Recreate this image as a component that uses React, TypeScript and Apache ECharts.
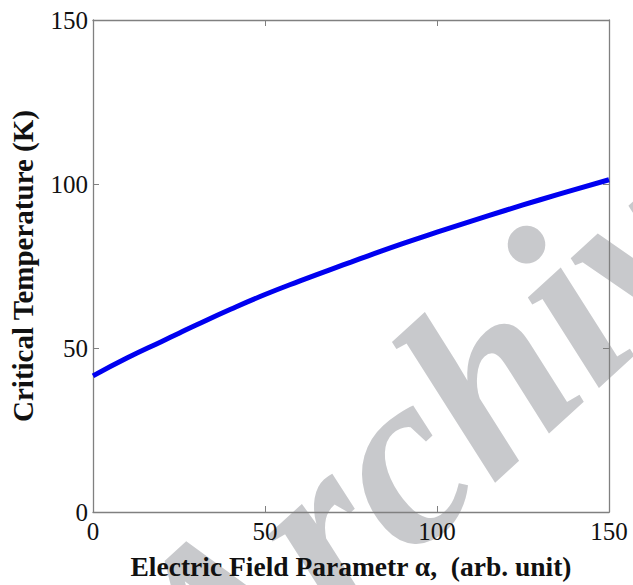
import React, { useEffect, useRef } from "react";
import * as echarts from "echarts";

const alphaValues = [0, 10, 20, 25, 30, 40, 50, 60, 70, 75, 80, 90, 100, 110, 120, 130, 140, 150];
const tcValues = [41.5, 47, 52, 54.5, 57, 61.8, 66.3, 70.4, 74.3, 76.2, 78.1, 81.8, 85.3, 88.7, 92, 95.2, 98.3, 101.3];
const xTicks = [0, 50, 100, 150];
const yTicks = [0, 50, 100, 150];
const xName = "Electric Field Parametr α,  (arb. unit)";
const yName = "Critical Temperature (K)";
const watermark = "Archive";

const FONT = "'Liberation Serif', 'DejaVu Serif', serif";

export default function App() {
  const ref = useRef<HTMLDivElement>(null);
  useEffect(() => {
    if (!ref.current) return;
    const chart = echarts.init(ref.current, null, { renderer: "svg" });
    const axisCommon = {
      axisLine: { show: true, onZero: false, lineStyle: { color: "#808080", width: 1.3 } },
      axisTick: { show: true, inside: true, length: 6, lineStyle: { color: "#808080" } },
      splitLine: { show: false },
    };
    chart.setOption({
      animation: false,
      backgroundColor: "#ffffff",
      textStyle: { fontFamily: FONT },
      graphic: [
        {
          type: "text",
          x: 455,
          y: 405,
          rotation: 0.74,
          z: -10,
          silent: true,
          style: {
            text: watermark,
            fill: "#c8c9cc",
            font: "italic bold 250px 'Liberation Serif', serif",
            align: "center",
            verticalAlign: "middle",
          },
        },
      ],
      grid: { left: 86, top: 20, right: 24, bottom: 67, show: false },
      xAxis: [
        {
          type: "value",
          min: 0,
          max: 150,
          interval: 50,
          ...axisCommon,
          axisLabel: {
            show: true,
            color: "#111",
            fontSize: 25,
            fontFamily: FONT,
            margin: 7,
            customValues: xTicks,
          },
          name: xName,
          nameLocation: "middle",
          nameGap: 40,
          nameTextStyle: { color: "#111", fontSize: 27.5, fontWeight: "bold", fontFamily: FONT },
        },
        {
          type: "value",
          position: "top",
          min: 0,
          max: 150,
          interval: 50,
          ...axisCommon,
          axisLabel: { show: false },
        },
      ],
      yAxis: [
        {
          type: "value",
          min: 0,
          max: 150,
          interval: 50,
          ...axisCommon,
          axisLabel: {
            show: true,
            color: "#111",
            fontSize: 25,
            fontFamily: FONT,
            margin: 5,
            customValues: yTicks,
          },
          name: yName,
          nameLocation: "middle",
          nameGap: 56,
          nameTextStyle: { color: "#111", fontSize: 29, fontWeight: "bold", fontFamily: FONT },
        },
        {
          type: "value",
          position: "right",
          min: 0,
          max: 150,
          interval: 50,
          ...axisCommon,
          axisLabel: { show: false },
        },
      ],
      series: [
        {
          type: "line",
          data: alphaValues.map((a, i) => [a, tcValues[i]]),
          smooth: true,
          showSymbol: false,
          lineStyle: { color: "#0000f0", width: 5 },
          z: 5,
        },
      ],
    });
    return () => chart.dispose();
  }, []);
  return (
    <div style={{ position: "absolute", left: 0, top: 0, width: 633, height: 585, overflow: "hidden" }}>
      <div ref={ref} style={{ width: 633, height: 585 }} />
    </div>
  );
}
